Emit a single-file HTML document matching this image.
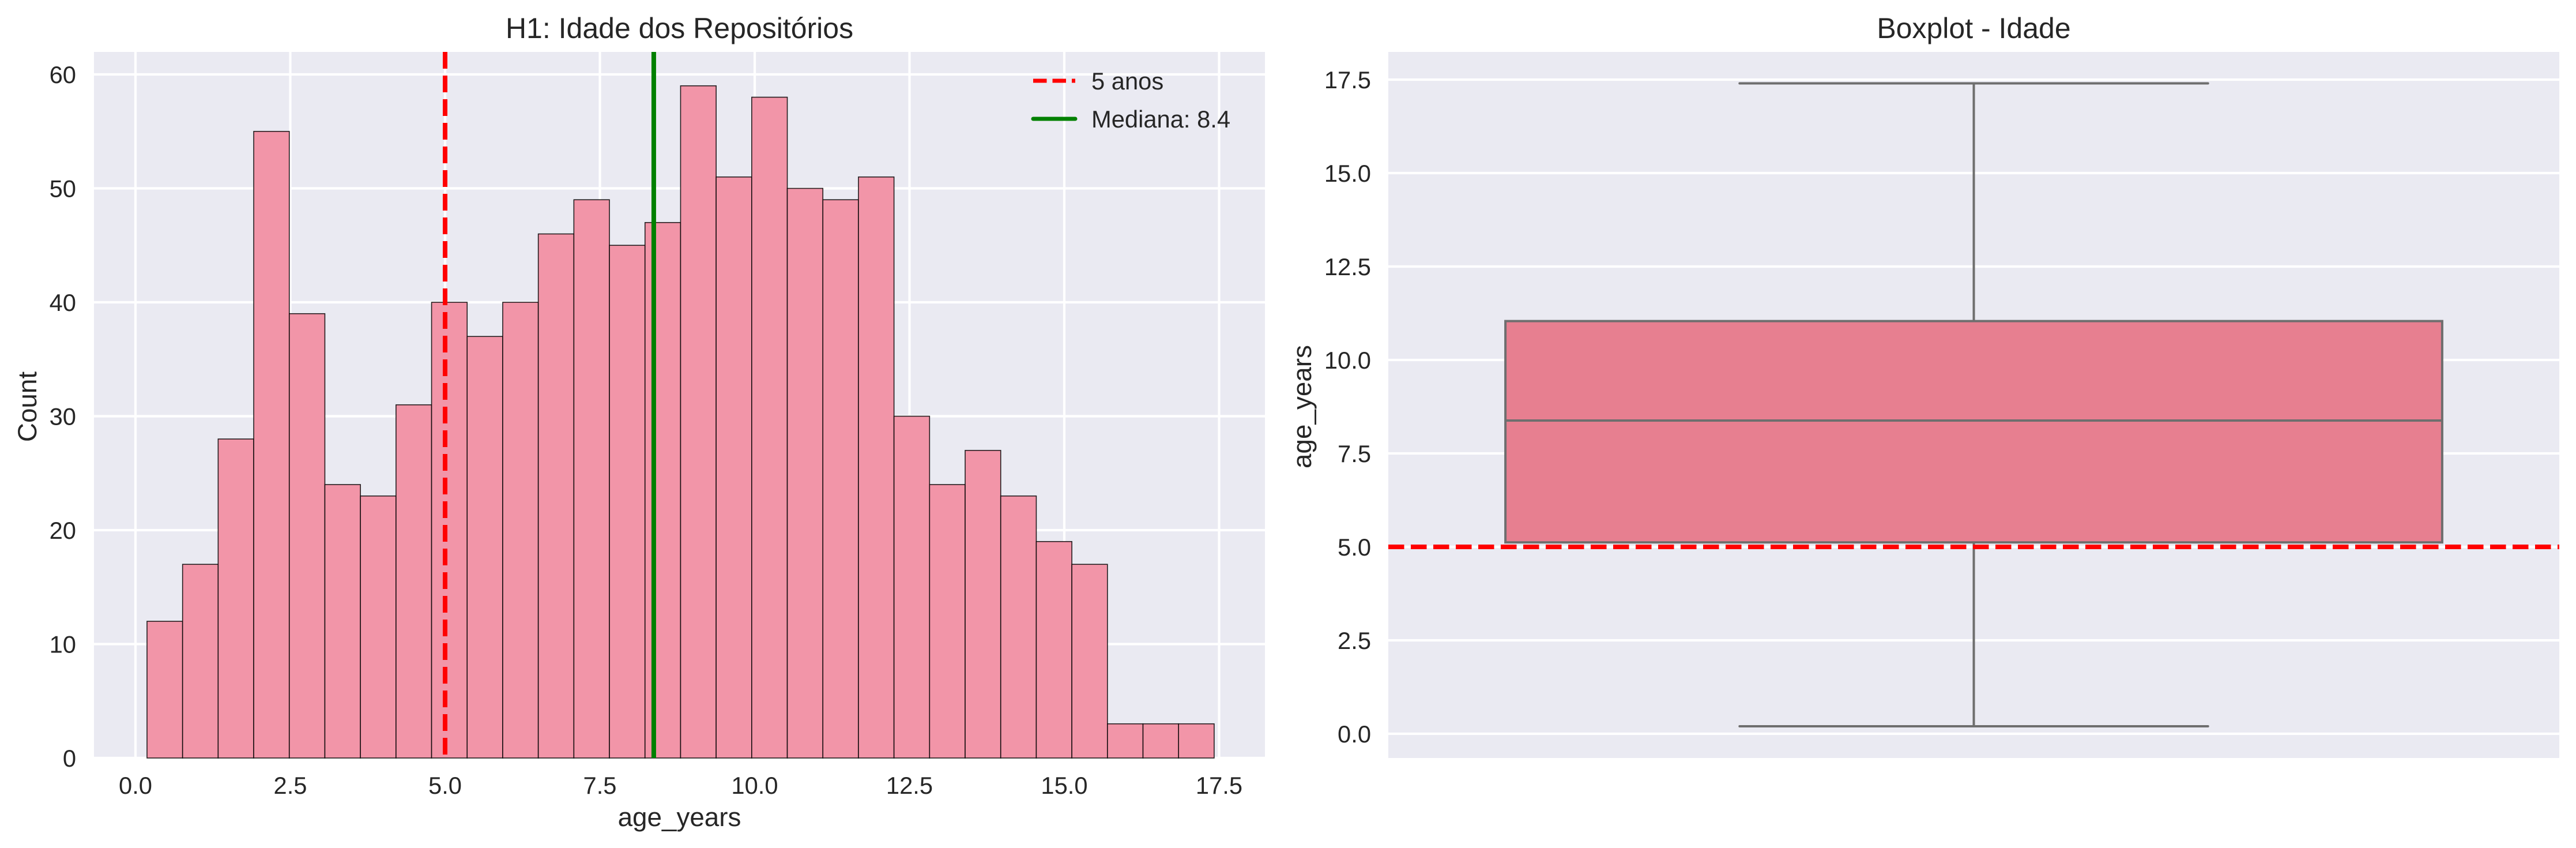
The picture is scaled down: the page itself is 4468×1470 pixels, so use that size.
<!DOCTYPE html>
<html><head><meta charset="utf-8"><style>
html,body{margin:0;padding:0;background:#fff;}
svg{display:block;font-family:"Liberation Sans",Arial,sans-serif;}
</style></head><body>
<svg id="fig" width="4468" height="1470" viewBox="0 0 4468 1470" xmlns="http://www.w3.org/2000/svg">
<g id="left"></g>
<g id="right"></g>
</svg>
<script>
// Histogram data
const histCounts = [12,17,28,55,39,24,23,31,40,37,40,46,49,45,47,59,51,58,50,49,51,30,24,27,23,19,17,3,3,3];
const histMin = 0.186;
const histMax = 17.42;
const histXTicks = [0,2.5,5,7.5,10,12.5,15,17.5];
const histXTickLabels = ["0.0","2.5","5.0","7.5","10.0","12.5","15.0","17.5"];
const histYTicks = [0,10,20,30,40,50,60];
const thresholdYears = [5];
const medianValue = [8.37];
// Boxplot data
const boxStats = [0.2, 5.12, 8.38, 11.04, 17.4]; // whisker low, q1, median, q3, whisker high
const boxYTicks = [0,2.5,5,7.5,10,12.5,15,17.5];
const boxYTickLabels = ["0.0","2.5","5.0","7.5","10.0","12.5","15.0","17.5"];

const NS = "http://www.w3.org/2000/svg";
function mk(parent, tag, attrs, text){
  const e = document.createElementNS(NS, tag);
  for (const k in attrs) e.setAttribute(k, attrs[k]);
  if (text !== undefined) e.textContent = text;
  parent.appendChild(e);
  return e;
}
const BG = "#eaeaf2", TXT = "#262626";

// ---------- Left panel ----------
const L = document.getElementById('left');
const lx0 = 163, lx1 = 2194, ly0 = 90, ly1 = 1314;
const hx = v => 235 + v * 107.4;
const hy = v => 1314 - v * 19.75;
let e;
e = mk(L, 'rect', {x:lx0, y:ly0, width:lx1-lx0, height:ly1-ly0, fill:BG});


histXTicks.forEach((t,i) => {
  e = mk(L, 'line', {x1:hx(t), x2:hx(t), y1:ly0, y2:ly1, stroke:'#fff', 'stroke-width':4.2});
  
  
  e = mk(L, 'text', {x:hx(t), y:1376, 'font-size':41.7, fill:TXT, 'text-anchor':'middle'}, histXTickLabels[i]);
  
  
});
histYTicks.forEach(t => {
  e = mk(L, 'line', {x1:lx0, x2:lx1, y1:hy(t), y2:hy(t), stroke:'#fff', 'stroke-width':4.2});
  
  
  e = mk(L, 'text', {x:lx0-31, y:hy(t)+15, 'font-size':41.7, fill:TXT, 'text-anchor':'end'}, String(t));
  
  
});
const bw = (histMax - histMin) / histCounts.length;
histCounts.forEach((c,i) => {
  const a = histMin + i*bw, b = a + bw;
  e = mk(L, 'rect', {x:hx(a), y:hy(c), width:hx(b)-hx(a), height:hy(0)-hy(c), fill:'#f295a8', stroke:'#000', 'stroke-width':1.6, 'stroke-opacity':0.85});
  
  
});
e = mk(L, 'line', {x1:hx(thresholdYears[0]), x2:hx(thresholdYears[0]), y1:ly0, y2:ly1, stroke:'#ff0000', 'stroke-width':8, 'stroke-dasharray':'29 12'});


e = mk(L, 'line', {x1:hx(medianValue[0]), x2:hx(medianValue[0]), y1:ly0, y2:ly1, stroke:'#008000', 'stroke-width':8});


// legend
e = mk(L, 'line', {x1:1792, x2:1865, y1:140, y2:140, stroke:'#ff0000', 'stroke-width':7, 'stroke-dasharray':'23.5 10'});


e = mk(L, 'text', {x:1893, y:155, 'font-size':41.7, fill:TXT}, '5 anos');


e = mk(L, 'line', {x1:1792, x2:1865, y1:206, y2:206, stroke:'#008000', 'stroke-width':7, 'stroke-linecap':'round'});


e = mk(L, 'text', {x:1893, y:221, 'font-size':41.7, fill:TXT}, 'Mediana: 8.4');


e = mk(L, 'text', {x:(lx0+lx1)/2, y:66, 'font-size':50, fill:TXT, 'text-anchor':'middle'}, 'H1: Idade dos Repositórios');


e = mk(L, 'text', {x:(lx0+lx1)/2, y:1432, 'font-size':45.8, fill:TXT, 'text-anchor':'middle'}, 'age_years');


e = mk(L, 'text', {x:63, y:705, 'font-size':45.8, fill:TXT, 'text-anchor':'middle', transform:'rotate(-90 63 705)'}, 'Count');



// ---------- Right panel ----------
const R = document.getElementById('right');
const rx0 = 2408, rx1 = 4439, ry0 = 90, ry1 = 1314;
const by = v => 624 + (10 - v) * 64.8;
const bx = v => rx0 + (v + 0.5) * (rx1 - rx0);
e = mk(R, 'rect', {x:rx0, y:ry0, width:rx1-rx0, height:ry1-ry0, fill:BG});


boxYTicks.forEach((t,i) => {
  e = mk(R, 'line', {x1:rx0, x2:rx1, y1:by(t), y2:by(t), stroke:'#fff', 'stroke-width':4.2});
  
  
  e = mk(R, 'text', {x:rx0-30, y:by(t)+15, 'font-size':41.7, fill:TXT, 'text-anchor':'end'}, boxYTickLabels[i]);
  
  
});
const G = '#6e6e6e';
const [wl, q1, med, q3, wh] = boxStats;
e = mk(R, 'line', {x1:bx(0), x2:bx(0), y1:by(q3), y2:by(wh), stroke:G, 'stroke-width':4});


e = mk(R, 'line', {x1:bx(0), x2:bx(0), y1:by(q1), y2:by(wl), stroke:G, 'stroke-width':4});


e = mk(R, 'line', {x1:bx(-0.2), x2:bx(0.2), y1:by(wh), y2:by(wh), stroke:G, 'stroke-width':4, 'stroke-linecap':'round'});


e = mk(R, 'line', {x1:bx(-0.2), x2:bx(0.2), y1:by(wl), y2:by(wl), stroke:G, 'stroke-width':4, 'stroke-linecap':'round'});


e = mk(R, 'rect', {x:bx(-0.4), y:by(q3), width:bx(0.4)-bx(-0.4), height:by(q1)-by(q3), fill:'#e77f90', stroke:G, 'stroke-width':4});


e = mk(R, 'line', {x1:bx(-0.4), x2:bx(0.4), y1:by(med), y2:by(med), stroke:G, 'stroke-width':4});


e = mk(R, 'line', {x1:rx0, x2:rx1, y1:by(thresholdYears[0]), y2:by(thresholdYears[0]), stroke:'#ff0000', 'stroke-width':8, 'stroke-dasharray':'27.5 11.5'});


e = mk(R, 'text', {x:(rx0+rx1)/2, y:66, 'font-size':50, fill:TXT, 'text-anchor':'middle'}, 'Boxplot - Idade');


e = mk(R, 'text', {x:2274, y:705, 'font-size':45.8, fill:TXT, 'text-anchor':'middle', transform:'rotate(-90 2274 705)'}, 'age_years');


</script>
</body></html>
